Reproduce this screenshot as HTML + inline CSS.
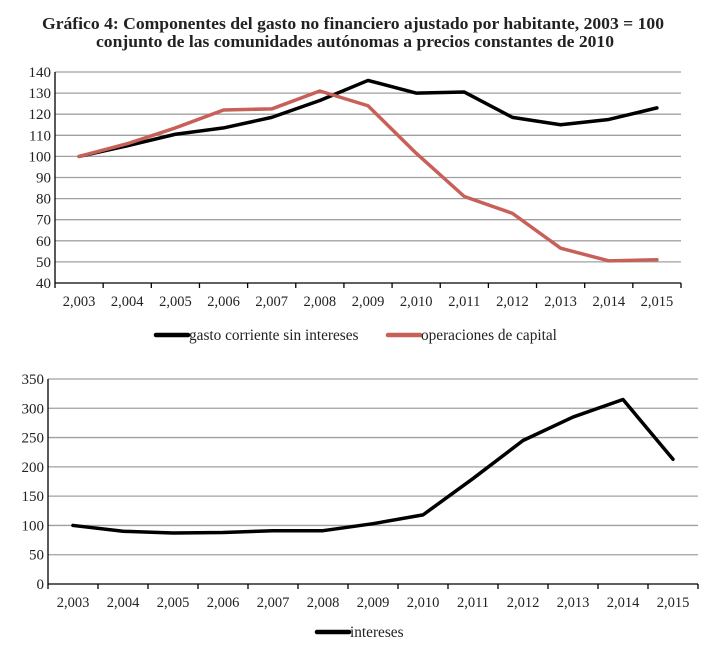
<!DOCTYPE html>
<html><head><meta charset="utf-8"><style>
body{margin:0;background:#fff;}
svg text{font-family:"Liberation Serif",serif;fill:#222;}
</style></head><body>
<svg width="710" height="648" xmlns="http://www.w3.org/2000/svg">
<text x="353" y="29" text-anchor="middle" font-weight="bold" font-size="16.5" textLength="622" lengthAdjust="spacingAndGlyphs">Gráfico 4: Componentes del gasto no financiero ajustado por habitante, 2003 = 100</text>
<text x="355" y="47" text-anchor="middle" font-weight="bold" font-size="16.5" textLength="518" lengthAdjust="spacingAndGlyphs">conjunto de las comunidades autónomas a precios constantes de 2010</text>
<g id="top"></g>
<g id="bot"></g>
</svg>
<script>
const years=["2,003","2,004","2,005","2,006","2,007","2,008","2,009","2,010","2,011","2,012","2,013","2,014","2,015"];
const gastoCorriente=[100,105,110.5,113.5,118.5,126.5,136,130,130.5,118.5,115,117.5,123];
const operacionesCapital=[100,106,113.5,122,122.5,131,124,101.5,81,73,56.5,50.5,51];
const intereses=[100,90,87,88,91,91,103,118,180,245,285,315,213];
const topTicks=[40,50,60,70,80,90,100,110,120,130,140];
const botTicks=[0,50,100,150,200,250,300,350];
const NS="http://www.w3.org/2000/svg";
function mk(p,t,a){const e=document.createElementNS(NS,t);for(const k in a)e.setAttribute(k,a[k]);p.appendChild(e);return e;}
function chart(g,cfg){
  const {x0,x1,yTop,yBot,min,max,ticks,series,prefix}=cfg;
  const cw=(x1-x0)/years.length;
  const X=i=>x0+cw*(i+0.5);
  const Y=v=>yBot-(v-min)/(max-min)*(yBot-yTop);
  ticks.forEach(t=>{
    if(t!==min){const l=mk(g,'line',{x1:x0,x2:x1,y1:Y(t),y2:Y(t),stroke:'#a0a0a0','stroke-width':1.3});
    
    }
    const tx=mk(g,'text',{x:x0-4,y:Y(t)+5,'text-anchor':'end','font-size':15});tx.textContent=t;
    
    
  });
  const ya=mk(g,'line',{x1:x0,x2:x0,y1:yTop,y2:yBot,stroke:'#000','stroke-width':1.3});
  
  
  const xa=mk(g,'line',{x1:x0,x2:x1,y1:yBot,y2:yBot,stroke:'#000','stroke-width':1.3});
  
  
  for(let i=0;i<=years.length;i++){
    const tk=mk(g,'line',{x1:x0+cw*i,x2:x0+cw*i,y1:yBot,y2:yBot+5,stroke:'#000','stroke-width':1.3});
    
    
  }
  years.forEach((y,i)=>{const tx=mk(g,'text',{x:X(i),y:yBot+23,'text-anchor':'middle','font-size':14.5});tx.textContent=y;
    
    });
  series.forEach(s=>{
    const p=mk(g,'polyline',{points:s.data.map((v,i)=>X(i)+','+Y(v)).join(' '),fill:'none',stroke:s.color,'stroke-width':3.5,'stroke-linejoin':'round','stroke-linecap':'round'});
    
    
    const ll=mk(g,'line',{x1:s.lx,x2:s.lx+32,y1:s.ly,y2:s.ly,stroke:s.color,'stroke-width':4.5,'stroke-linecap':'round'});
    
    
    const lt=mk(g,'text',{x:s.lx+33,y:s.ly+5,'font-size':15.3});lt.textContent=s.label;
    
    
  });
}
chart(document.getElementById('top'),{x0:55,x1:681,yTop:72,yBot:283,min:40,max:140,ticks:topTicks,prefix:'top-',
  series:[{data:gastoCorriente,color:'#000',name:'gasto-corriente',label:'gasto corriente sin intereses',lx:156,ly:335},
          {data:operacionesCapital,color:'#c8605a',name:'operaciones-capital',label:'operaciones de capital',lx:388,ly:335}]});
chart(document.getElementById('bot'),{x0:48,x1:698,yTop:379,yBot:584,min:0,max:350,ticks:botTicks,prefix:'bottom-',
  series:[{data:intereses,color:'#000',name:'intereses',label:'intereses',lx:317,ly:632}]});
</script>
</body></html>
